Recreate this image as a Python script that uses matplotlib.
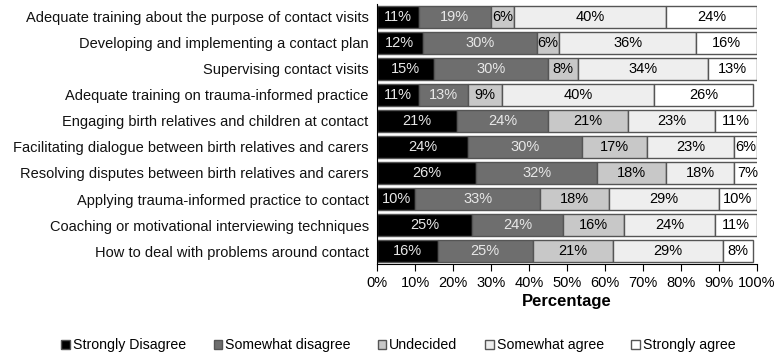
import matplotlib
matplotlib.use("Agg")
import matplotlib.pyplot as plt
import numpy as np

plt.rcParams['font.family'] = ['Liberation Sans', 'DejaVu Sans']

categories = [
    "Adequate training about the purpose of contact visits",
    "Developing and implementing a contact plan",
    "Supervising contact visits",
    "Adequate training on trauma-informed practice",
    "Engaging birth relatives and children at contact",
    "Facilitating dialogue between birth relatives and carers",
    "Resolving disputes between birth relatives and carers",
    "Applying trauma-informed practice to contact",
    "Coaching or motivational interviewing techniques",
    "How to deal with problems around contact",
]
strongly_disagree = [11, 12, 15, 11, 21, 24, 26, 10, 25, 16]
somewhat_disagree = [19, 30, 30, 13, 24, 30, 32, 33, 24, 25]
undecided = [6, 6, 8, 9, 21, 17, 18, 18, 16, 21]
somewhat_agree = [40, 36, 34, 40, 23, 23, 18, 29, 24, 29]
strongly_agree = [24, 16, 13, 26, 11, 6, 7, 10, 11, 8]
series_names = ["Strongly Disagree", "Somewhat disagree", "Undecided",
                "Somewhat agree", "Strongly agree"]
xticks = [0, 10, 20, 30, 40, 50, 60, 70, 80, 90, 100]

series = [strongly_disagree, somewhat_disagree, undecided, somewhat_agree, strongly_agree]
colors = ["#000000", "#6e6e6e", "#c8c8c8", "#eeeeee", "#ffffff"]
text_colors = ["#e8e8e8", "#e8e8e8", "#000000", "#000000", "#000000"]

FS = 10.5

fig = plt.figure(figsize=(7.78, 3.56), dpi=100)
ax = fig.add_axes([0.4846, 0.258, 0.4884, 0.732])

y = np.arange(len(categories))
left = np.zeros(len(categories))
for vals, c, tc, name in zip(series, colors, text_colors, series_names):
    vals = np.array(vals, dtype=float)
    ax.barh(y, vals, left=left, height=0.84, color=c, edgecolor="#555555",
            linewidth=1.0, label=name)
    for yi, l, v in zip(y, left, vals):
        ax.text(l + v / 2, yi, f"{int(v)}%", ha="center", va="center",
                fontsize=FS, color=tc)
    left += vals

ax.set_ylim(len(categories) - 0.5, -0.5)
ax.set_xlim(0, 100)
ax.set_yticks(y)
ax.set_yticklabels(categories, fontsize=FS, color="#111111")
ax.set_xticks(xticks)
ax.set_xticklabels([f"{t}%" for t in xticks], fontsize=FS)
ax.tick_params(axis='y', length=0, pad=6)
ax.tick_params(axis='x', length=5, direction='out', color="#000000")
for s in ["top", "right"]:
    ax.spines[s].set_visible(False)
ax.spines["left"].set_color("#000000")
ax.spines["bottom"].set_color("#000000")
ax.set_xlabel("Percentage", fontsize=12, fontweight="bold", labelpad=3)

handles, labels = ax.get_legend_handles_labels()
fig.legend(handles, labels, loc="center", bbox_to_anchor=(0.512, 0.03), ncol=5,
           frameon=False, fontsize=10.2, handlelength=0.6, handleheight=0.6,
           handletextpad=0.2, columnspacing=1.95)

fig.savefig("out.png", dpi=100)
